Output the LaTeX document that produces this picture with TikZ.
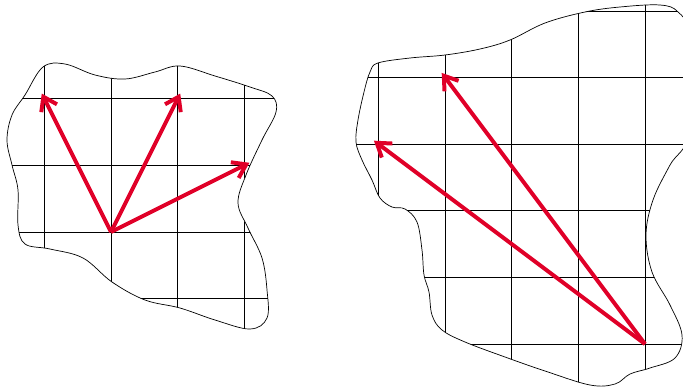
\documentclass[tikz,border=0pt]{standalone}
\usetikzlibrary{arrows.meta,calc}
\definecolor{vecred}{RGB}{224,0,40}

% outlines of the two regions (image pixel units)
\def\blobleft{plot[smooth cycle, tension=0.6] coordinates {
  (43,67) (65,64) (95,75) (125,79) (155,72) (180,66) (215,76) (250,87)
  (272,96) (276,112) (262,140) (246,175) (238,203) (248,228) (262,258)
  (267,290) (267,318) (250,329) (215,320) (180,308) (145,300) (112,282)
  (83,258) (50,249) (25,244) (18,225) (18,190) (12,165) (7,140)
  (12,115) (25,95)}}
\def\blobright{plot[smooth cycle, tension=0.6] coordinates {
  (378,63) (410,58) (445,55) (480,49) (510,40) (545,23) (585,12)
  (620,7) (660,5) (678,12) (688,35) (690,130) (670,165) (653,200)
  (646,235) (652,272) (670,305) (682,335) (675,358) (650,368) (630,374)
  (615,384) (590,385) (545,371) (505,357) (465,342) (442,330) (432,315)
  (429,292) (424,275) (422,250) (417,222) (405,209) (392,207) (380,198)
  (372,180) (362,160) (356,142) (358,120) (364,92) (370,72)}}

\begin{document}
\begin{tikzpicture}[
  x=0.03cm, y=-0.03cm,
  outline/.style={draw, line width=0.6pt},
  gridline/.style={draw, line width=0.6pt},
  vec/.style={vecred, line width=3.4pt, shorten >=-5pt,
              -{Straight Barb[length=11pt, width=15pt]}},
]
\useasboundingbox (0,0) rectangle (683,388);
% left region
\coordinate (o1) at (111,232);
\begin{scope}
  \clip \blobleft;
  \foreach \k in {-1,...,2}
    \draw[gridline] ($(o1)+(\k*66.6,-300)$) -- ($(o1)+(\k*66.6,200)$);
  \foreach \k in {-2,...,1}
    \draw[gridline] ($(o1)+(-200,\k*66.6)$) -- ($(o1)+(300,\k*66.6)$);
\end{scope}
\draw[outline] \blobleft;
\coordinate (p1) at ($(o1)+(-66.6,-133.2)$);
\coordinate (p2) at ($(o1)+(66.6,-133.2)$);
\coordinate (p3) at ($(o1)+(133.2,-66.6)$);
\foreach \p in {p1,p2,p3}
  \draw[vec] (o1) -- (\p);
% right region
\coordinate (o2) at (645,344);
\begin{scope}
  \clip \blobright;
  \foreach \k in {-4,...,1}
    \draw[gridline] ($(o2)+(\k*66.6,-400)$) -- ($(o2)+(\k*66.6,100)$);
  \foreach \k in {-5,...,0}
    \draw[gridline] ($(o2)+(-350,\k*66.6)$) -- ($(o2)+(100,\k*66.6)$);
\end{scope}
\draw[outline] \blobright;
\coordinate (q1) at ($(o2)+(-199.8,-266.4)$);
\coordinate (q2) at ($(o2)+(-266.4,-199.8)$);
\foreach \q in {q1,q2}
  \draw[vec] (o2) -- (\q);
\end{tikzpicture}
\end{document}
